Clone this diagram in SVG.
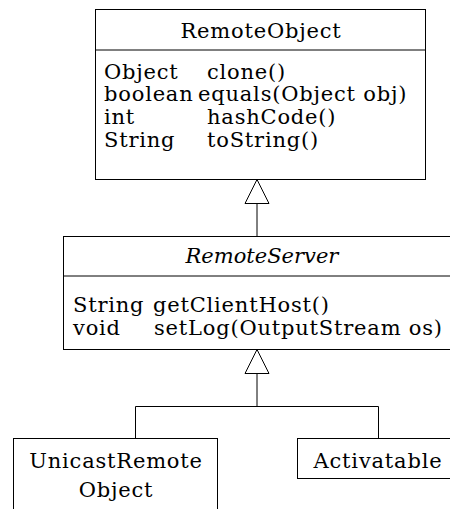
<svg xmlns="http://www.w3.org/2000/svg" width="450" height="509" viewBox="0 0 450 509">
  <style>
    .box { fill: #fff; stroke: #000; stroke-width: 1; }
    .sep { stroke: #000; stroke-width: 1; }
    .link { fill: none; stroke: #000; stroke-width: 1; }
    .head { fill: #fff; stroke: #000; stroke-width: 1; }
    text { font-family: "DejaVu Serif", "Liberation Serif", serif; font-size: 21px; fill: #000; letter-spacing: 0.8px; }
    .title { text-anchor: middle; }
    .abstract { font-style: italic; letter-spacing: 0px; }
  </style>

  <!-- inheritance connectors -->
  <g id="connectors">
    <line class="link" x1="257" y1="203" x2="257" y2="236"/>
    <polygon class="head" points="257,179.5 245,203.5 269,203.5"/>
    <polyline class="link" points="257,373 257,406.5 135.5,406.5 135.5,438"/>
    <polyline class="link" points="257,406.5 378.5,406.5 378.5,438"/>
    <polygon class="head" points="257,349.5 245,373.5 269,373.5"/>
  </g>

  <g id="RemoteObject">
    <rect class="box" x="95.5" y="9.5" width="330" height="170"/>
    <line class="sep" x1="95.5" y1="50" x2="425.5" y2="50"/>
    <text class="title" x="261" y="38">RemoteObject</text>
    <text x="104" y="79">Object</text>
    <text x="207" y="79">clone()</text>
    <text x="104" y="101">boolean</text>
    <text x="198" y="101">equals(Object obj)</text>
    <text x="104" y="124">int</text>
    <text x="207" y="124">hashCode()</text>
    <text x="104" y="147">String</text>
    <text x="207" y="147">toString()</text>
  </g>

  <g id="RemoteServer">
    <rect class="box" x="63.5" y="236.5" width="400" height="113"/>
    <line class="sep" x1="63.5" y1="276" x2="450" y2="276"/>
    <text class="title abstract" x="262" y="263">RemoteServer</text>
    <text x="73" y="312">String</text>
    <text x="153" y="312">getClientHost()</text>
    <text x="73" y="335">void</text>
    <text x="154" y="335">setLog(OutputStream os)</text>
  </g>

  <g id="UnicastRemoteObject">
    <rect class="box" x="13.5" y="438.5" width="204" height="90"/>
    <text class="title" x="116" y="468">UnicastRemote</text>
    <text class="title" x="116" y="497">Object</text>
  </g>

  <g id="Activatable">
    <rect class="box" x="297.5" y="438.5" width="170" height="40"/>
    <text class="title" x="378" y="468">Activatable</text>
  </g>
</svg>
